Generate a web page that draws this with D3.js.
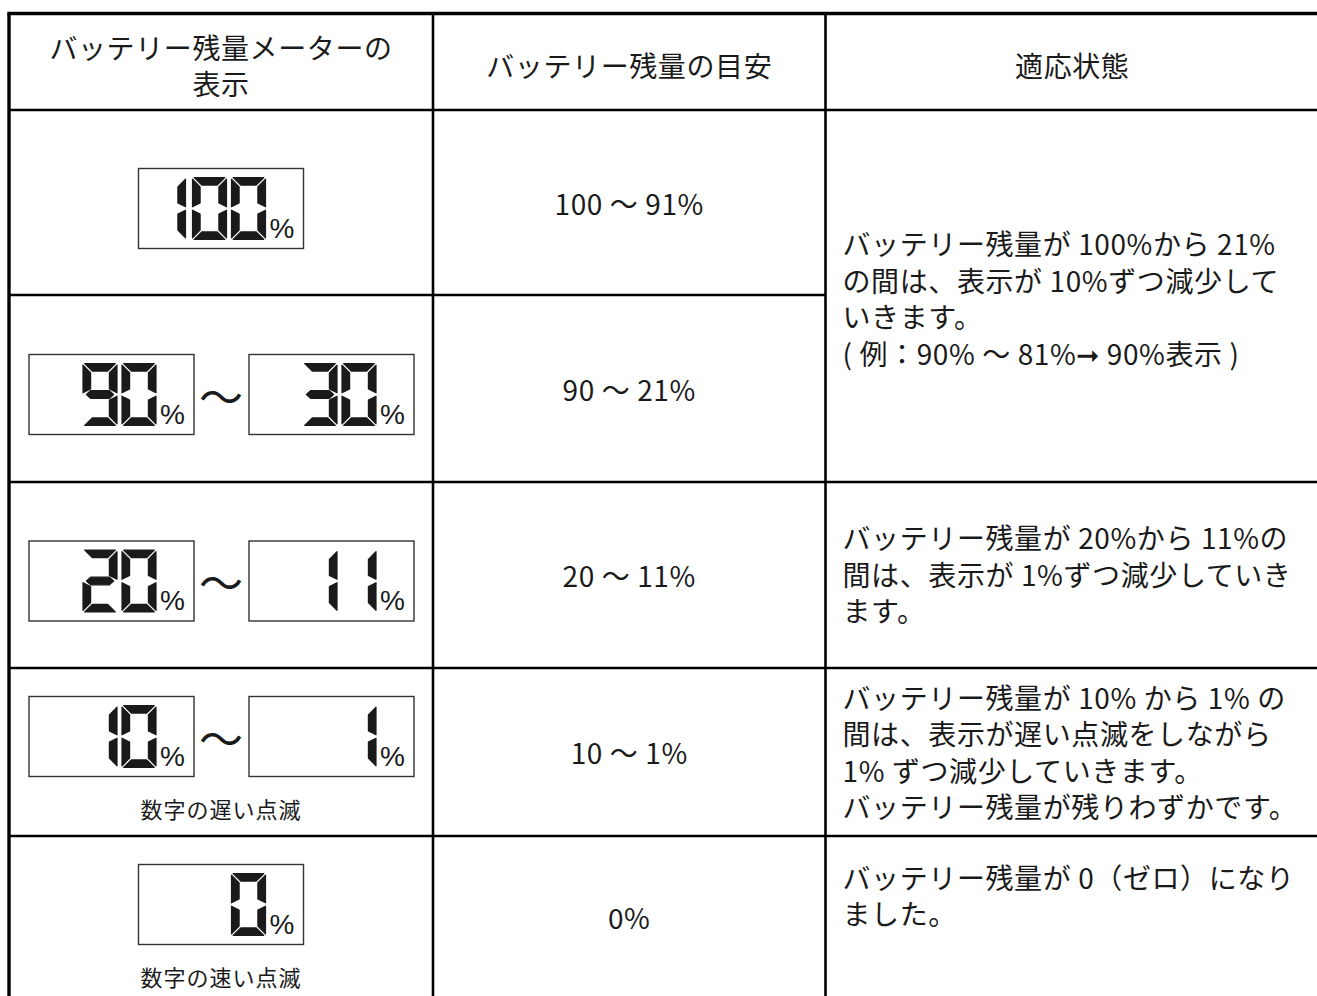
<!DOCTYPE html>
<html><head><meta charset="utf-8">
<script src="https://cdn.jsdelivr.net/npm/d3@7"></script>
<style>body{margin:0;background:#fff;overflow:hidden}</style>
</head><body><svg id="c" width="1317" height="996"></svg>
<script>
// ---------- data ----------
const headerLabels = [["バッテリー残量メーターの","表示"],["バッテリー残量の目安"],["適応状態"]];
const meterValues = [["100"],["90","30"],["20","11"],["10","1"],["0"]];
const meterCaptions = ["","","","数字の遅い点滅","数字の速い点滅"];
const rangeLabels = ["100 ～ 91%","90 ～ 21%","20 ～ 11%","10 ～ 1%","0%"];
const stateSpans = [[0,2],[2,3],[3,4],[4,5]];
const stateLines = [
  ["バッテリー残量が 100%から 21%","の間は、表示が 10%ずつ減少して","いきます。","( 例：90% ～ 81%➞ 90%表示 )"],
  ["バッテリー残量が 20%から 11%の","間は、表示が 1%ずつ減少していき","ます。"],
  ["バッテリー残量が 10% から 1% の","間は、表示が遅い点滅をしながら","1% ずつ減少していきます。","バッテリー残量が残りわずかです。"],
  ["バッテリー残量が 0（ゼロ）になり","ました。"]
];
const segmentMap = {"0":"abcdef","1":"bc","2":"abged","3":"abgcd","9":"abcdfg"};

// ---------- layout ----------
const colEdges = [9, 433, 825.5, 1319];
const rowEdges = [13.5, 110, 295, 482, 668, 836, 998];
const stateCenters = [298, 573.5, 751.5, 895];
const FONT = "'Noto Sans CJK JP','Noto Sans',sans-serif";
const INK = "#1a1a1a";
const BOX_W = 165, BOX_H = 80;
const DW = 34, DH = 62, DT = 7.6, DG = 1.7;

const svg = d3.select("#c");
const x = d3.scaleOrdinal().domain([0,1,2,3]).range(colEdges);
const y = d3.scaleOrdinal().domain(d3.range(rowEdges.length)).range(rowEdges);

// ---------- grid ----------
const g = svg.append("g");
const hLines = [];
hLines.push({x1:x(0)-1.7, x2:x(3), y:y(0), w:3.4});
hLines.push({x1:x(0), x2:x(3), y:y(1), w:2.6});
hLines.push({x1:x(0), x2:x(2), y:y(2), w:2.6});
[3,4,5].forEach(i => hLines.push({x1:x(0), x2:x(3), y:y(i), w:2.6}));
g.selectAll("line.h").data(hLines).join("line")
  .attr("x1", d=>d.x1).attr("x2", d=>d.x2).attr("y1", d=>d.y).attr("y2", d=>d.y)
  .attr("stroke", "#000").attr("stroke-width", d=>d.w);
const vLines = [{x:x(0), w:3.4},{x:x(1), w:2.6},{x:x(2), w:2.6},{x:x(3), w:2.6}];
g.selectAll("line.v").data(vLines).join("line")
  .attr("x1", d=>d.x).attr("x2", d=>d.x).attr("y1", y(0)).attr("y2", y(6))
  .attr("stroke", "#000").attr("stroke-width", d=>d.w);

const TXT = sel => sel.attr("font-family", FONT).attr("font-size", 28).attr("letter-spacing", 0.6).attr("fill", INK);

// ---------- header ----------
const lh = 36.5;
headerLabels.forEach((lines, c) => {
  const cx = (x(c)+x(c+1))/2, cy = 65;
  svg.append("g").selectAll("text").data(lines).join("text")
    .attr("x", cx)
    .attr("y", (d,i) => cy + (i - (lines.length-1)/2) * lh)
    .attr("text-anchor", "middle").attr("dominant-baseline", "central")
    .call(TXT).text(d => d);
});

// ---------- range labels ----------
svg.append("g").selectAll("text").data(rangeLabels).join("text")
  .attr("x", (x(1)+x(2))/2)
  .attr("y", (d,i) => (y(i+1)+y(i+2))/2)
  .attr("text-anchor", "middle").attr("dominant-baseline", "central")
  .call(TXT).text(d => d);

// ---------- state texts ----------
stateLines.forEach((lines, k) => {
  const cy = stateCenters[k];
  svg.append("g").selectAll("text").data(lines).join("text")
    .attr("x", x(2) + 17)
    .attr("y", (d,i) => cy + (i - (lines.length-1)/2) * lh)
    .attr("dominant-baseline", "central")
    .call(TXT).text(d => d);
});

// ---------- seven segment ----------
function segs(W, H, T, G) {
  const m = H/2;
  return {
    a: [[G,0],[W-G,0],[W-T-G,T],[T+G,T]],
    d: [[G,H],[W-G,H],[W-T-G,H-T],[T+G,H-T]],
    f: [[0,G],[T,T+G],[T,m-T/2-G],[0,m-G]],
    e: [[0,m+G],[T,m+T/2+G],[T,H-T-G],[0,H-G]],
    b: [[W,G],[W-T,T+G],[W-T,m-T/2-G],[W,m-G]],
    c: [[W,m+G],[W-T,m+T/2+G],[W-T,H-T-G],[W,H-G]],
    g: [[2*G,m],[T,m-T/2],[W-T,m-T/2],[W-2*G,m],[W-T,m+T/2],[T,m+T/2]]
  };
}
const S = segs(DW, DH, DT, DG);
const line = d3.line();

function drawMeter(parent, bx, by, value) {
  const mg = parent.append("g");
  mg.append("rect").attr("x", bx).attr("y", by).attr("width", BOX_W).attr("height", BOX_H)
    .attr("fill", "#fff").attr("stroke", "#333").attr("stroke-width", 1.4);
  const top = by + 9;
  const chars = value.split("").reverse();
  chars.forEach((ch, pos) => {
    const dx = pos === 2 ? bx + 47 - DW : bx + 127 - DW - pos*39;
    const on = segmentMap[ch].split("");
    mg.append("g").attr("transform", `translate(${dx},${top})`)
      .selectAll("path").data(on).join("path")
      .attr("d", s => line(S[s]) + "Z")
      .attr("fill", INK).attr("stroke", INK).attr("stroke-width", 1.2).attr("stroke-linejoin", "round");
  });
  mg.append("text").attr("x", bx + 131).attr("y", top + DH - 2)
    .attr("font-family", "'Liberation Sans',Arial,sans-serif").attr("font-size", 28)
    .attr("fill", INK).text("%");
}

meterValues.forEach((vals, i) => {
  const rt = y(i+1), rb = y(i+2);
  const hasCap = meterCaptions[i] !== "";
  const by = hasCap ? rt + 28.5 : (rt + rb)/2 + 6 - BOX_H/2;
  const cx = (x(0)+x(1))/2;
  const grp = svg.append("g");
  if (vals.length === 1) {
    drawMeter(grp, cx - BOX_W/2, by, vals[0]);
  } else {
    drawMeter(grp, cx - 192, by, vals[0]);
    drawMeter(grp, cx + 28, by, vals[1]);
    grp.append("text").attr("x", cx).attr("y", by + BOX_H/2)
      .attr("text-anchor", "middle").attr("dominant-baseline", "central")
      .attr("font-family", FONT).attr("font-size", 44).attr("fill", INK).text("～");
  }
  if (hasCap) {
    grp.append("text").attr("x", cx).attr("y", by + BOX_H + 31)
      .attr("text-anchor", "middle").attr("dominant-baseline", "central")
      .attr("font-family", FONT).attr("font-size", 22).attr("letter-spacing", 1)
      .attr("fill", INK).text(meterCaptions[i]);
  }
});
</script></body></html>
